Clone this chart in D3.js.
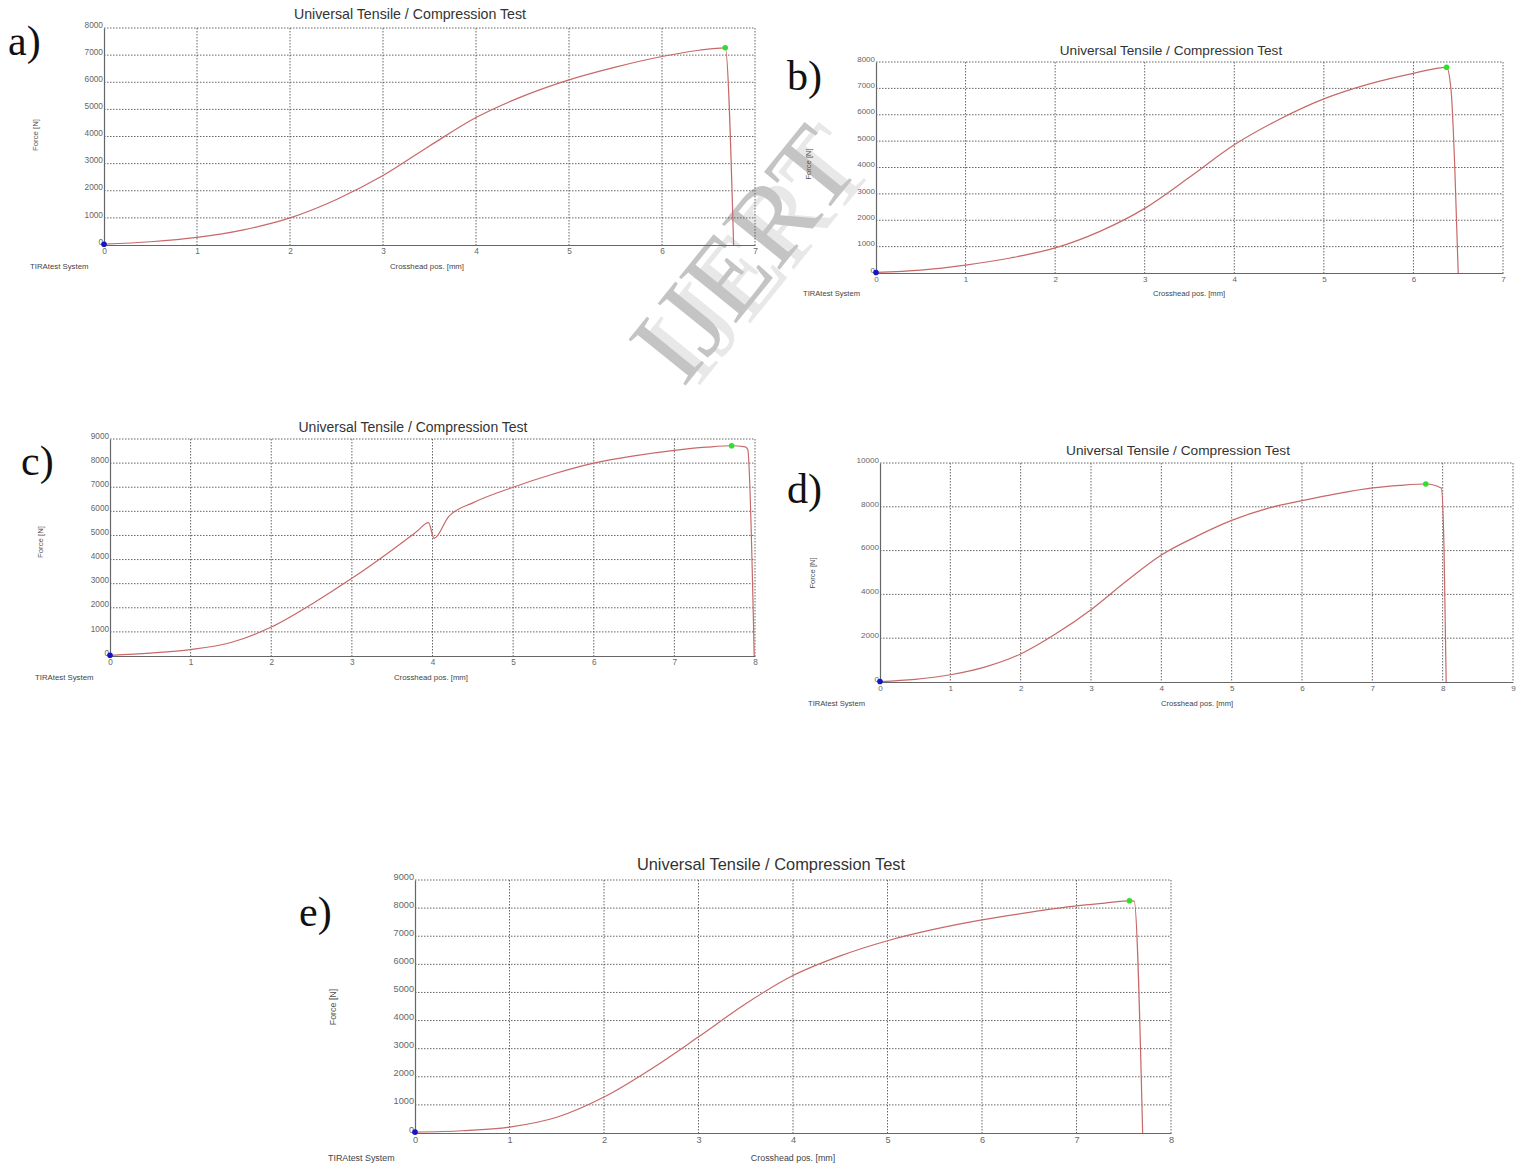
<!DOCTYPE html>
<html><head><meta charset="utf-8">
<script src="https://cdn.jsdelivr.net/npm/d3@7"></script>
<style>html,body{margin:0;padding:0;background:#fff;}svg{display:block;}</style>
</head><body>
<svg id="chart" width="1528" height="1165"></svg>
<script>
// ---- data (crosshead position [mm], force [N]) ----
const curveA = [[0,30],[0.5,120],[1,280],[1.5,560],[2,1000],[2.5,1680],[3,2560],[3.5,3650],[4,4700],[4.5,5480],[5,6090],[5.5,6560],[6,6950],[6.4,7180],[6.68,7270],[6.77,0]];
const curveB = [[0,20],[0.5,110],[1,300],[1.5,570],[2,950],[2.5,1580],[3,2450],[3.5,3630],[4,4860],[4.5,5820],[5,6600],[5.5,7160],[6,7570],[6.37,7800],[6.42,6940],[6.46,4170],[6.5,0]];
const curveC = [[0,30],[0.5,120],[1,265],[1.5,560],[2,1200],[2.5,2150],[3,3220],[3.5,4400],[3.8,5150],[3.95,5530],[4.02,4880],[4.2,5780],[4.5,6350],[5,7000],[5.5,7550],[6,8000],[6.5,8300],[7,8530],[7.4,8660],[7.71,8720],[7.88,8670],[7.91,8560],[7.99,0]];
const curveD = [[0,20],[0.5,120],[1,330],[1.5,690],[2,1280],[2.5,2200],[3,3300],[3.5,4600],[4,5800],[4.5,6650],[5,7380],[5.5,7920],[6,8280],[6.5,8600],[7,8860],[7.4,8980],[7.76,9040],[7.98,8860],[8.02,6000],[8.05,0]];
const curveE = [[0,30],[0.5,80],[1,210],[1.5,560],[2,1280],[2.5,2280],[3,3420],[3.5,4600],[4,5600],[4.5,6300],[5,6840],[5.5,7250],[6,7580],[6.5,7850],[7,8080],[7.3,8180],[7.56,8260],[7.61,8250],[7.70,0]];
// peak (green) marker positions
const peaks = {a:[6.68,7270], b:[6.37,7800], c:[7.71,8720], d:[7.76,9040], e:[7.56,8260]};

const xTicks7 = [0,1,2,3,4,5,6,7];
const xTicks8 = [0,1,2,3,4,5,6,7,8];
const xTicks9 = [0,1,2,3,4,5,6,7,8,9];
const yTicks8k = [0,1000,2000,3000,4000,5000,6000,7000,8000];
const yTicks9k = [0,1000,2000,3000,4000,5000,6000,7000,8000,9000];
const yTicks10k = [0,2000,4000,6000,8000,10000];

const panelLabels = ["a)","b)","c)","d)","e)"];
const titleText = "Universal Tensile / Compression Test";
const yLabelText = "Force [N]";
const xLabelText = "Crosshead pos. [mm]";
const systemText = "TIRAtest System";

// ---- layout (pixel positions) ----
const panels = [
  {key:"a", data:curveA, xT:xTicks7, yT:yTicks8k, L:104, R:755, B:245, T:28,
   title:[410,19,14.2], yl:[35,135], sys:[30,269], xl:[427,269], fs:7.8, ts:8.3, lab:[8,55]},
  {key:"b", data:curveB, xT:xTicks7, yT:yTicks8k, L:876, R:1503, B:273, T:62,
   title:[1171,55,13.6], yl:[808,164], sys:[803,296], xl:[1189,296], fs:7.6, ts:8.0, lab:[787,90]},
  {key:"c", data:curveC, xT:xTicks8, yT:yTicks9k, L:110, R:755, B:656, T:439,
   title:[413,432,14.0], yl:[40,542], sys:[35,680], xl:[431,680], fs:7.8, ts:8.2, lab:[21,475]},
  {key:"d", data:curveD, xT:xTicks9, yT:yTicks10k, L:880, R:1513, B:682, T:463,
   title:[1178,455,13.7], yl:[812,573], sys:[808,706], xl:[1197,706], fs:7.6, ts:8.1, lab:[787,503]},
  {key:"e", data:curveE, xT:xTicks8, yT:yTicks9k, L:415, R:1171, B:1133, T:880,
   title:[771,870,16.4], yl:[333,1007], sys:[328,1161], xl:[793,1161], fs:8.9, ts:9.2, lab:[299,926]}
];

const svg = d3.select("#chart");
svg.append("rect").attr("width",1528).attr("height",1165).attr("fill","#fff");

// watermark
const wm = svg.append("g").attr("transform","translate(745,255) rotate(-51)");
wm.append("text").attr("x",9).attr("y",47).attr("text-anchor","middle")
  .attr("font-family","Liberation Serif").attr("font-size",112).attr("fill","#e8e8e8").text("IJERT");
wm.append("text").attr("x",0).attr("y",36).attr("text-anchor","middle")
  .attr("font-family","Liberation Serif").attr("font-size",112).attr("fill","#c4c4c4").text("IJERT");

panels.forEach((p,i)=>{
  const xMax = p.xT[p.xT.length-1], yMax = p.yT[p.yT.length-1];
  const x = d3.scaleLinear().domain([0,xMax]).range([p.L,p.R]);
  const y = d3.scaleLinear().domain([0,yMax]).range([p.B,p.T]);
  const g = svg.append("g");

  // grid (dotted), including top and right borders
  g.selectAll(".gx").data(p.xT.slice(1)).enter().append("line")
    .attr("x1",d=>x(d)).attr("x2",d=>x(d)).attr("y1",p.T).attr("y2",p.B)
    .attr("stroke","#555").attr("stroke-width",0.9).attr("stroke-dasharray","1.5,1.5");
  g.selectAll(".gy").data(p.yT.slice(1)).enter().append("line")
    .attr("x1",p.L).attr("x2",p.R).attr("y1",d=>y(d)).attr("y2",d=>y(d))
    .attr("stroke","#555").attr("stroke-width",0.9).attr("stroke-dasharray","1.5,1.5");

  // axes (solid left & bottom), using d3 axes for labels
  const xAxis = d3.axisBottom(x).tickValues(p.xT).tickSize(0).tickPadding(3).tickFormat(d3.format("d"));
  const gx = g.append("g").attr("transform",`translate(0,${p.B})`).call(xAxis);
  gx.select(".domain").attr("stroke","#666").attr("stroke-width",1.2);
  gx.selectAll("text").attr("font-family","Liberation Sans").attr("font-size",p.ts).attr("fill","#666");

  const yAxis = d3.axisLeft(y).tickValues(p.yT).tickSize(0).tickPadding(1).tickFormat(d3.format("d"));
  const gy = g.append("g").attr("transform",`translate(${p.L},0)`).call(yAxis);
  gy.select(".domain").attr("stroke","#666").attr("stroke-width",1.2);
  gy.selectAll("text").attr("font-family","Liberation Sans").attr("font-size",p.ts).attr("fill","#666")
    .attr("dy","-0.1em");

  // curve
  const line = d3.line().x(d=>x(d[0])).y(d=>y(d[1])).curve(d3.curveMonotoneX);
  g.append("path").datum(p.data).attr("d",line).attr("fill","none")
    .attr("stroke","#c86868").attr("stroke-width",1.2);

  // markers
  const pk = peaks[p.key];
  g.append("circle").attr("cx",x(pk[0])).attr("cy",y(pk[1])).attr("r",2.8).attr("fill","#2ee02e");
  g.append("circle").attr("cx",x(p.data[0][0])).attr("cy",y(p.data[0][1])).attr("r",2.8).attr("fill","#1515c8");

  // texts
  g.append("text").attr("x",p.title[0]).attr("y",p.title[1]).attr("text-anchor","middle")
    .attr("font-family","Liberation Sans").attr("font-size",p.title[2]).attr("fill","#333").text(titleText);
  g.append("text").attr("transform",`translate(${p.yl[0]},${p.yl[1]}) rotate(-90)`).attr("text-anchor","middle")
    .attr("dy","0.35em").attr("font-family","Liberation Sans").attr("font-size",p.fs).attr("fill","#555").text(yLabelText);
  g.append("text").attr("x",p.sys[0]).attr("y",p.sys[1])
    .attr("font-family","Liberation Sans").attr("font-size",p.fs).attr("fill","#444").text(systemText);
  g.append("text").attr("x",p.xl[0]).attr("y",p.xl[1]).attr("text-anchor","middle")
    .attr("font-family","Liberation Sans").attr("font-size",p.fs).attr("fill","#444").text(xLabelText);
  g.append("text").attr("x",p.lab[0]).attr("y",p.lab[1])
    .attr("font-family","Liberation Serif").attr("font-size",42).attr("fill","#111").text(panelLabels[i]);
});
</script>
</body></html>
